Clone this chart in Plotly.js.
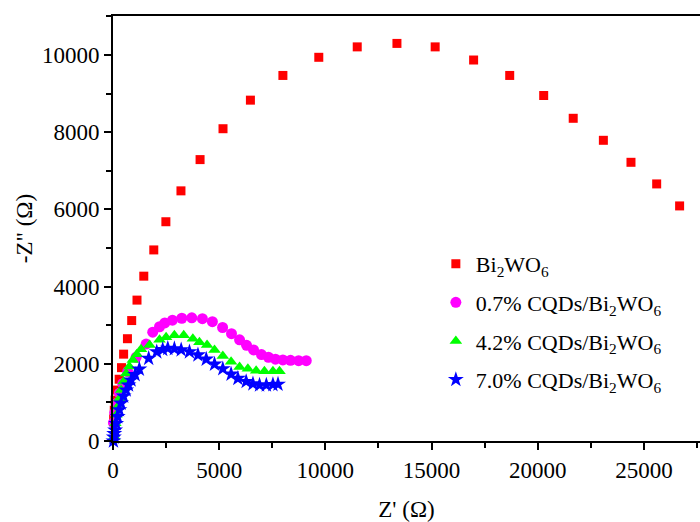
<!DOCTYPE html>
<html><head><meta charset="utf-8">
<script src="https://cdn.plot.ly/plotly-3.0.1.min.js"></script>
<style>html,body{margin:0;padding:0;background:#fff}#chart{width:700px;height:522px}</style>
</head><body><div id="chart"></div>
<script>
const seriesNames = ['Bi<sub>2</sub>WO<sub>6</sub>', '0.7% CQDs/Bi<sub>2</sub>WO<sub>6</sub>', '4.2% CQDs/Bi<sub>2</sub>WO<sub>6</sub>', '7.0% CQDs/Bi<sub>2</sub>WO<sub>6</sub>'];

const bwoX = [30, 60, 100, 180, 290, 400, 500, 680, 880, 1130, 1450, 1920, 2490, 3200, 4100, 5180, 6470, 8000, 9690, 11500, 13370, 15170, 16980, 18680, 20280, 21670, 23090, 24390, 25600, 26680];
const bwoY = [570, 800, 1060, 1320, 1600, 1900, 2250, 2650, 3120, 3650, 4270, 4950, 5680, 6480, 7290, 8090, 8830, 9470, 9940, 10210, 10300, 10210, 9870, 9470, 8950, 8360, 7790, 7220, 6660, 6090];

const c07X = [20, 80, 180, 300, 460, 690, 1090, 1560, 1870, 2190, 2440, 2800, 3240, 3710, 4210, 4680, 5160, 5580, 5960, 6290, 6620, 6990, 7320, 7650, 8000, 8360, 8740, 9100];
const c07Y = [470, 730, 980, 1240, 1490, 1800, 2170, 2510, 2820, 2960, 3060, 3130, 3180, 3190, 3170, 3090, 2940, 2780, 2620, 2480, 2360, 2240, 2170, 2120, 2100, 2090, 2080, 2080];

const c42X = [60, 110, 160, 220, 300, 380, 500, 620, 770, 930, 1120, 1320, 1720, 2190, 2500, 2890, 3330, 3760, 4070, 4430, 4780, 5170, 5560, 5960, 6350, 6740, 7130, 7530, 7840];
const c42Y = [110, 460, 680, 890, 1100, 1320, 1540, 1750, 1930, 2100, 2250, 2380, 2490, 2620, 2690, 2740, 2740, 2650, 2560, 2490, 2360, 2200, 2050, 1920, 1870, 1820, 1810, 1810, 1810];

const c70X = [20, 40, 60, 100, 150, 220, 300, 380, 500, 620, 730, 850, 1040, 1240, 1680, 2060, 2340, 2580, 2890, 3210, 3600, 4000, 4390, 4780, 5170, 5560, 5880, 6270, 6590, 6900, 7220, 7530, 7770];
const c70Y = [0, 100, 190, 280, 450, 630, 810, 980, 1160, 1320, 1450, 1580, 1720, 1860, 2140, 2310, 2370, 2400, 2390, 2360, 2310, 2230, 2120, 1990, 1870, 1730, 1620, 1540, 1480, 1450, 1450, 1460, 1470];

const xTitle = "Z' (Ω)";
const yTitle = '-Z" (Ω)';

const mk = (x, y, name, color, symbol, size, grp) => ({
  x: x, y: y, name: name, legendgroup: grp, type: 'scatter', mode: 'markers', cliponaxis: false,
  marker: {color: color, symbol: symbol, size: size, line: {width: 0}}
});

const data = [
  mk(bwoX, bwoY, seriesNames[0], '#ff0000', 'square', 9, 'a'),
  mk(c07X, c07Y, seriesNames[1], '#ff00ff', 'circle', 11, 'b'),
  mk(c42X, c42Y, seriesNames[2], '#00ff00', 'triangle-up', 11, 'c'),
  mk(c70X, c70Y, seriesNames[3], '#0000ff', 'star', 12, 'd')
];

const FAM = 'Liberation Serif';
const font = (s) => ({family: FAM, size: s, color: '#000'});

const layout = {
  width: 700, height: 522,
  margin: {l: 113, r: 0, t: 16, b: 81},
  paper_bgcolor: '#fff', plot_bgcolor: '#fff',
  font: font(22),
  showlegend: true,
  legend: {x: 0.55, y: 0.466, xanchor: 'left', yanchor: 'top', bgcolor: 'rgba(0,0,0,0)',
    font: font(22), itemwidth: 30, tracegroupgap: 7},
  xaxis: {
    range: [0, 27640], showgrid: false, zeroline: false,
    showline: true, linewidth: 2, linecolor: '#000', mirror: true,
    ticks: 'outside', ticklen: 7, tickwidth: 2, tickcolor: '#000',
    tick0: 0, dtick: 5000, tickformat: 'd',
    minor: {ticks: 'outside', ticklen: 5, tickwidth: 2, tickcolor: '#000', dtick: 2500},
    tickfont: font(23),
    title: {text: xTitle, font: font(23), standoff: 20}
  },
  yaxis: {
    range: [0, 11010], showgrid: false, zeroline: false,
    showline: true, linewidth: 2, linecolor: '#000',
    ticks: 'outside', ticklen: 7, tickwidth: 2, tickcolor: '#000',
    tick0: 0, dtick: 2000, tickformat: 'd',
    minor: {ticks: 'outside', ticklen: 5, tickwidth: 2, tickcolor: '#000', dtick: 1000},
    tickfont: font(23),
    title: {text: yTitle, font: font(23), standoff: 3}
  }
};

Plotly.newPlot('chart', data, layout, {displayModeBar: false, staticPlot: true});
</script>
</body></html>
